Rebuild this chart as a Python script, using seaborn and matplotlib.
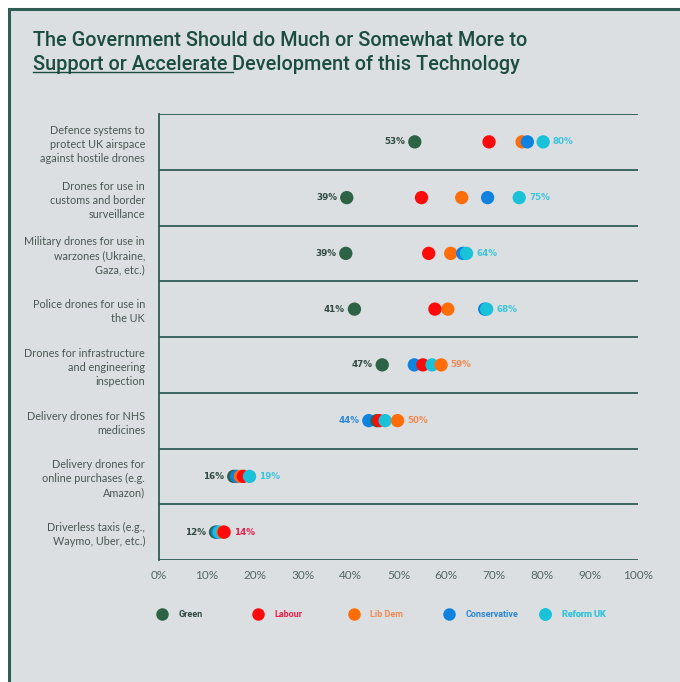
import numpy as np
import pandas as pd
import matplotlib
matplotlib.use("Agg")
import matplotlib.pyplot as plt
import seaborn as sns
from matplotlib.lines import Line2D
from matplotlib.patches import Rectangle

# Dados (percentual que quer mais apoio do governo)
categories = [
    "Defence systems to\nprotect UK airspace\nagainst hostile drones",
    "Drones for use in\ncustoms and border\nsurveillance",
    "Military drones for use in\nwarzones (Ukraine,\nGaza, etc.)",
    "Police drones for use in\nthe UK",
    "Drones for infrastructure\nand engineering\ninspection",
    "Delivery drones for NHS\nmedicines",
    "Delivery drones for\nonline purchases (e.g.\nAmazon)",
    "Driverless taxis (e.g.,\nWaymo, Uber, etc.)",
]
parties = ["Green", "Labour", "Lib Dem", "Conservative", "Reform UK"]
green = [53.4, 39.2, 39.0, 40.8, 46.6, 45.5, 15.6, 11.8]
labour = [68.9, 54.8, 56.3, 57.6, 55.1, 46.0, 17.6, 13.6]
lib_dem = [75.8, 63.2, 60.9, 60.3, 58.9, 49.8, 17.0, 13.4]
conservative = [76.9, 68.6, 63.4, 68.0, 53.3, 43.8, 16.2, 12.2]
reform_uk = [80.2, 75.2, 64.2, 68.4, 57.0, 47.2, 18.9, 12.6]
x_ticks = [0, 10, 20, 30, 40, 50, 60, 70, 80, 90, 100]

palette = {"Green": "#2c6344", "Labour": "#ff0a0a", "Lib Dem": "#ff6d0a",
           "Conservative": "#0f82e0", "Reform UK": "#19c2d8"}
text_colors = {"Green": "#2e4a40", "Labour": "#e8204a", "Lib Dem": "#f08a55",
               "Conservative": "#2a86d8", "Reform UK": "#3cc4da"}
bg = "#dcdfe2"
line_c = "#2f5c55"
title_c = "#1b4d3e"

# Monta o dataframe longo
wide = pd.DataFrame({"Technology": categories, "Green": green, "Labour": labour,
                     "Lib Dem": lib_dem, "Conservative": conservative,
                     "Reform UK": reform_uk})
df = wide.melt(id_vars="Technology", var_name="Party", value_name="Share")
df["row"] = df["Technology"].map({c: i for i, c in enumerate(categories)})
# ponto mais a direita fica por cima
df = df.sort_values("Share").reset_index(drop=True)

fig = plt.figure(figsize=(6.8, 6.82), dpi=100, facecolor="white")
fig.patches.append(Rectangle((8.5 / 680, -0.1), 1.2, 1.1 - 9 / 682,
                             transform=fig.transFigure, facecolor=bg,
                             edgecolor=line_c, lw=2.2, zorder=-5))
ax = fig.add_axes([159 / 680, 1 - 560 / 682, 479 / 680, 446 / 682])
ax.set_facecolor("none")

sns.scatterplot(data=df, x="Share", y="row", hue="Party", hue_order=parties,
                palette=palette, s=92, linewidth=0, legend=False, ax=ax, zorder=3)

# Linhas separando as linhas da tabela
ax.hlines(np.arange(-0.5, len(categories)), 0, 100, color=line_c, lw=1.3, zorder=1)
ax.set_xlim(0, 100)
ax.set_ylim(len(categories) - 0.5, -0.5)
for s in ["top", "right", "bottom"]:
    ax.spines[s].set_visible(False)
ax.spines["left"].set_color(line_c)
ax.spines["left"].set_linewidth(1.3)

ax.set_yticks(range(len(categories)))
ax.set_yticklabels(categories, fontsize=7.8, color="#4a5652", linespacing=1.35,
                   family=["Lato", "DejaVu Sans"])
ax.set_xticks(x_ticks)
ax.set_xticklabels([f"{t}%" for t in x_ticks], fontsize=8.5, color="#556661",
                   family=["Lato", "DejaVu Sans"])
ax.tick_params(axis="y", length=0, pad=10)
ax.tick_params(axis="x", length=0, pad=7)
ax.set_xlabel("")
ax.set_ylabel("")

# Rotulos do menor e do maior valor de cada linha
for i, tech in enumerate(categories):
    sub = df[df["Technology"] == tech]
    lo = sub.loc[sub["Share"].idxmin()]
    hi = sub.loc[sub["Share"].idxmax()]
    ax.annotate(f"{lo['Share']:.0f}%", (lo["Share"], i), xytext=(-7, 0),
                textcoords="offset points", ha="right", va="center",
                fontsize=6.3, fontweight="bold", color=text_colors[lo["Party"]])
    ax.annotate(f"{hi['Share']:.0f}%", (hi["Share"], i), xytext=(7, 0),
                textcoords="offset points", ha="left", va="center",
                fontsize=6.3, fontweight="bold", color=text_colors[hi["Party"]])

# Legenda: um item a cada 20% do eixo
for i, p in enumerate(parties):
    h = Line2D([], [], marker="o", ls="", markersize=9, markerfacecolor=palette[p],
               markeredgewidth=0)
    leg = ax.legend(handles=[h], labels=[p], loc="center left",
                    bbox_to_anchor=(i * 0.2 - 0.003, -0.123), frameon=False,
                    handlelength=1.0, handletextpad=1.3, borderpad=0, borderaxespad=0,
                    prop=dict(size=6.5, weight="bold", family=["Roboto", "DejaVu Sans"]))
    leg.get_texts()[0].set_color(text_colors[p])
    ax.add_artist(leg)

# Titulo com sublinhado em parte da segunda linha
title_font = dict(fontsize=14.3, color=title_c, va="center", ha="left",
                  fontweight="medium", family=["Roboto", "DejaVu Sans"])
fig.text(33 / 680, 1 - 40 / 682, "The Government Should do Much or Somewhat More to",
         **title_font)
t2 = fig.text(33 / 680, 1 - 64 / 682, "Support or Accelerate ", **title_font)
renderer = fig.canvas.get_renderer()
bb = t2.get_window_extent(renderer).transformed(fig.transFigure.inverted())
fig.text(bb.x1, 1 - 64 / 682, "Development of this Technology", **title_font)
fig.lines.append(Line2D([bb.x0, bb.x1], [bb.y0 + 0.002, bb.y0 + 0.002],
                        transform=fig.transFigure, color=title_c, lw=1.0))

fig.savefig("out.png", dpi=100, facecolor="white")
